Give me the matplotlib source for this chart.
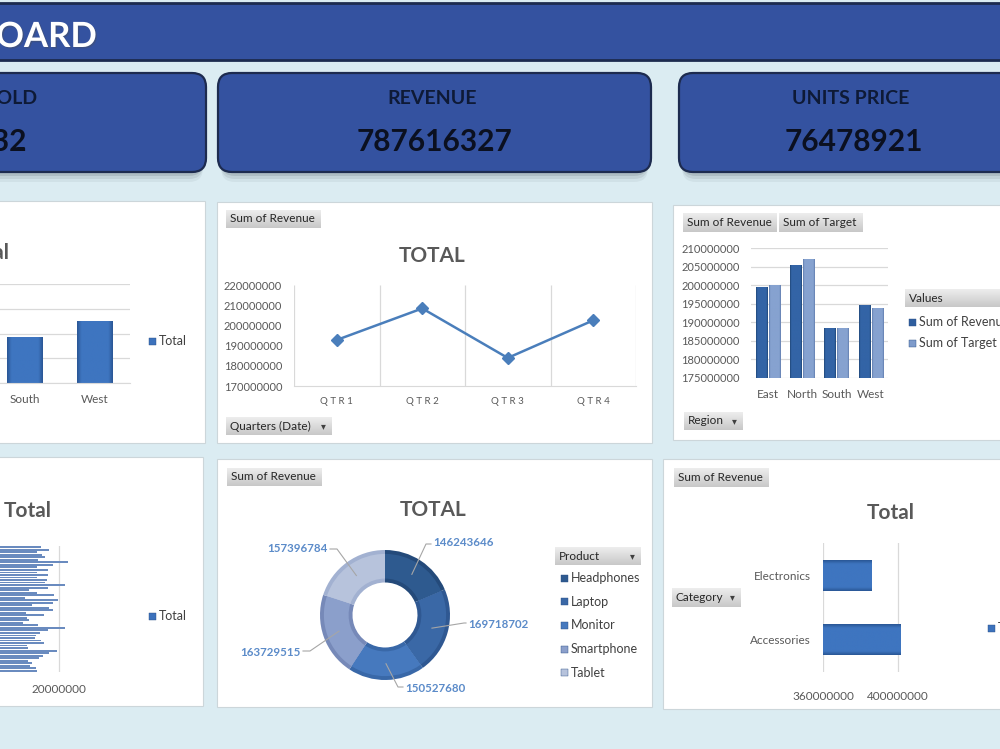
import numpy as np
import matplotlib.pyplot as plt
import matplotlib.patheffects as pe
from matplotlib.patches import FancyBboxPatch, Rectangle
from matplotlib.colors import LinearSegmentedColormap
from matplotlib.ticker import FuncFormatter

plt.rcParams['font.family'] = ['Lato', 'DejaVu Sans']

# ---- data ----
kpi_labels = ["UNITS SOLD", "REVENUE", "UNITS PRICE"]
kpi_values = ["10932", "787616327", "76478921"]

regions = ["East", "North", "South", "West"]
region_revenue = [199.45e6, 205.25e6, 188.25e6, 194.65e6]
region_target = [200.0e6, 207.0e6, 188.2e6, 193.8e6]

quarters = ["QTR1", "QTR2", "QTR3", "QTR4"]
quarter_revenue = [192.8e6, 208.4e6, 183.9e6, 202.5e6]

products = ["Headphones", "Laptop", "Monitor", "Smartphone", "Tablet"]
product_revenue = [146243646, 169718702, 150527680, 163729515, 157396784]

categories = ["Accessories", "Electronics"]
category_revenue = [401.6e6, 386.0e6]

# revenue per item (top to bottom), only the right ends are visible
detail_revenue = [
    18.33, 19.11, 17.96, 18.42, 18.72, 18.11, 20.85, 19.42, 18.02, 19.02,
    17.96, 19.02, 18.02, 18.88, 18.72, 20.58, 18.97, 17.29, 18.02, 19.57,
    16.89, 19.94, 19.48, 17.51, 19.11, 19.42, 16.99, 18.63, 17.05, 17.29,
    16.74, 18.11, 20.58, 18.97, 18.26, 17.90, 17.81, 18.33, 18.66, 17.05,
    17.20, 19.85, 19.11, 18.57, 18.20, 17.20, 17.56, 17.35, 17.90, 17.96,
]
detail_revenue = [v * 1e6 for v in detail_revenue]

# ---- styling ----
BG = '#DBECF2'
NAVY = '#3452A0'
GREY_TXT = '#595959'
LEG_TXT = '#404040'
GRID = '#D9D9D9'

W, H = 1000, 749
fig = plt.figure(figsize=(W / 100, H / 100), dpi=100)
fig.patch.set_facecolor(BG)


def px_axes(x0, y0, x1, y1):
    ax = fig.add_axes([x0 / W, 1 - y1 / H, (x1 - x0) / W, (y1 - y0) / H])
    ax.set_facecolor('none')
    return ax


bg = fig.add_axes([0, 0, 1, 1])
bg.axis('off')

# header bar
bg.add_patch(Rectangle((-10, 3), W + 20, 57, facecolor=NAVY, edgecolor='#1D2B4F', lw=2))
bg.text(97, 37, "DASHBOARD", ha='right', va='center', color='white', fontsize=25,
        fontweight='bold', path_effects=[pe.withSimplePatchShadow(offset=(1, -1), alpha=0.35)])

# KPI cards
kpi_boxes = [(-40, 206), (218, 651), (679, 1040)]
kpi_label_pos = [(37, 'right'), (432, 'center'), (851, 'center')]
kpi_value_pos = [(27, 'right'), (434, 'center'), (854, 'center')]
for (x0, x1), lab, val, (lx, lha), (vx, vha) in zip(kpi_boxes, kpi_labels, kpi_values,
                                                     kpi_label_pos, kpi_value_pos):
    for off, a in [(10, 0.08), (7, 0.12), (4, 0.18)]:
        bg.add_patch(FancyBboxPatch((x0 + 3, 73 + off), x1 - x0 - 6, 99,
                                    boxstyle='round,pad=0,rounding_size=14',
                                    facecolor='#56616A', edgecolor='none', alpha=a))
    bg.add_patch(FancyBboxPatch((x0, 73), x1 - x0, 99, boxstyle='round,pad=0,rounding_size=14',
                                facecolor=NAVY, edgecolor='#1D2B4F', lw=1.6))
    bg.text(lx, 98, lab, ha=lha, va='center', fontsize=14, fontweight='bold', color='#0E1A36')
    bg.text(vx, 142, val, ha=vha, va='center', fontsize=21.5, fontweight='bold', color='#0B1020')

# white chart panels
panels = [(-10, 201, 205, 443), (217, 202, 652, 443), (673, 205, 1010, 440),
          (-10, 457, 203, 706), (217, 459, 652, 707), (663, 459, 1010, 709)]
for x0, y0, x1, y1 in panels:
    bg.add_patch(Rectangle((x0, y0), x1 - x0, y1 - y0, facecolor='white',
                           edgecolor='#CCD6DA', lw=0.8))

btn_cmap = LinearSegmentedColormap.from_list('btn', ['#EDEDED', '#C8C8C8'])


def button(x0, y0, x1, y1, text, arrow=False):
    grad = np.linspace(0, 1, 32).reshape(-1, 1)
    bg.imshow(grad, cmap=btn_cmap, extent=(x0, x1, y1, y0), aspect='auto',
              interpolation='bilinear', zorder=3)
    bg.text(x0 + 4, (y0 + y1) / 2, text, ha='left', va='center', fontsize=8.5,
            color='#262626', zorder=4)
    if arrow:
        bg.text(x1 - 9, (y0 + y1) / 2, '▾', ha='center', va='center', fontsize=7,
                color='#404040', zorder=4, family='DejaVu Sans')


def legend_item(x, y, color, text):
    bg.add_patch(Rectangle((x, y - 3.5), 7, 7, facecolor=color, edgecolor='#2B4F86', lw=0.3, zorder=4))
    bg.text(x + 10, y, text, ha='left', va='center', fontsize=9, color=LEG_TXT, zorder=4)


def title(x, y, text, ha='center'):
    bg.text(x, y, text, ha=ha, va='center', fontsize=15, fontweight='bold', color=GREY_TXT)


def bevel(ax, bars, light, dark, horizontal=False):
    # gradient overlay on each bar, cut to the visible view limits
    cmap = LinearSegmentedColormap.from_list(
        'bev', [(0, dark), (0.12, light), (0.88, light), (1, dark)])
    g = np.linspace(0, 1, 64)
    g = g.reshape(-1, 1) if horizontal else g.reshape(1, -1)
    xl, yl = ax.get_xlim(), ax.get_ylim()
    for b in bars:
        x, y, w, h = b.get_x(), b.get_y(), b.get_width(), b.get_height()
        xa, xb = max(x, min(xl)), min(x + w, max(xl))
        ya, yb = max(y, min(yl)), min(y + h, max(yl))
        ax.imshow(g, cmap=cmap, extent=(xa, xb, ya, yb), aspect='auto',
                  interpolation='bilinear', zorder=b.get_zorder() + 0.1)
    ax.set_xlim(xl)
    ax.set_ylim(yl)


def plain_axes(ax):
    for s in ax.spines.values():
        s.set_visible(False)
    ax.tick_params(length=0, labelsize=8, labelcolor=GREY_TXT)
    ax.yaxis.set_major_formatter(FuncFormatter(lambda v, p: f"{v:.0f}"))
    ax.xaxis.set_major_formatter(FuncFormatter(lambda v, p: f"{v:.0f}"))


# ---- panel A: revenue by region (left edge cropped) ----
axA = px_axes(-150, 284, 130, 383)
plain_axes(axA)
xa = np.arange(len(regions))
barsA = axA.bar(xa, region_revenue, width=0.51, color='#3C72BC')
axA.set_xlim(-0.5, len(regions) - 0.5)
axA.set_ylim(170e6, 210e6)
bevel(axA, barsA, '#3E75C0', '#2A5796')
axA.set_yticks(np.arange(170e6, 210e6 + 1, 10e6))
axA.set_xticks(xa, regions)
axA.yaxis.grid(True, color=GRID, lw=0.9)
axA.set_axisbelow(True)
axA.tick_params(axis='x', labelsize=8.5, pad=8)
axA.spines['bottom'].set_visible(True)
axA.spines['bottom'].set_color(GRID)
title(10, 253, "Total", ha='right')
legend_item(149, 341, '#3C72BC', "Total")

# ---- panel B: revenue by quarter ----
axB = px_axes(294, 285, 636, 386)
plain_axes(axB)
xb = np.arange(len(quarters))
axB.vlines(np.arange(-0.5, len(quarters)), 170e6, 220e6, color=GRID, lw=0.9, zorder=0)
axB.plot(xb, quarter_revenue, color='#4A7EBB', lw=1.8, marker='D', ms=6)
axB.set_xlim(-0.5, len(quarters) - 0.5)
axB.set_ylim(170e6, 220e6)
axB.set_yticks(np.arange(170e6, 220e6 + 1, 10e6))
axB.set_xticks(xb, [" ".join(q) for q in quarters])
axB.tick_params(axis='y', pad=8.5)
axB.tick_params(axis='x', labelsize=7, pad=8)
axB.spines['bottom'].set_visible(True)
axB.spines['bottom'].set_color(GRID)
title(432, 256, "TOTAL")
button(226, 210, 321, 228, "Sum of Revenue")
button(226, 417, 332, 435, "Quarters (Date)", arrow=True)

# ---- panel C: revenue vs target by region ----
axC = px_axes(751, 248, 888, 378)
plain_axes(axC)
xc = np.arange(len(regions))
barsC1 = axC.bar(xc - 0.19, region_revenue, width=0.33, color='#2F5E9E')
barsC2 = axC.bar(xc + 0.19, region_target, width=0.33, color='#7E9BCB')
axC.set_xlim(-0.5, len(regions) - 0.5)
axC.set_ylim(175e6, 210e6)
bevel(axC, barsC1, '#3364A6', '#1F4677')
bevel(axC, barsC2, '#86A2D0', '#5F7CAE')
axC.set_yticks(np.arange(175e6, 210e6 + 1, 5e6))
axC.set_xticks(xc, regions)
axC.yaxis.grid(True, color=GRID, lw=0.9)
axC.set_axisbelow(True)
axC.tick_params(axis='y', pad=8)
axC.tick_params(axis='x', labelsize=8.5, pad=8)
button(683, 213, 777, 232, "Sum of Revenue")
button(779, 213, 863, 232, "Sum of Target")
button(684, 412, 743, 430, "Region", arrow=True)
button(905, 289, 1010, 307, "Values")
legend_item(909, 322, '#2F5E9E', "Sum of Revenue")
legend_item(909, 343, '#7E9BCB', "Sum of Target")

# ---- panel D: many thin bars (left edge cropped) ----
axD = px_axes(-160, 546, 100, 672)
plain_axes(axD)
yd = np.arange(len(detail_revenue))
axD.barh(yd, detail_revenue, height=0.75, color='#6A8BBF')
axD.set_ylim(len(detail_revenue) - 0.5, -0.5)
axD.set_xlim(0, 23.74e6)
axD.set_xticks([0, 10e6, 20e6])
axD.set_yticks([])
axD.xaxis.grid(True, color=GRID, lw=0.9)
axD.set_axisbelow(True)
axD.tick_params(axis='x', labelsize=8.5, pad=8.5)
title(52, 511, "Total", ha='right')
legend_item(149, 616, '#3C72BC', "Total")

# ---- panel E: donut by product ----
dark_cols = ['#244A7A', '#2F5892', '#3968A8', '#7689B8', '#A2B1D1']
base_cols = ['#2E5A8F', '#3A68A6', '#4679BE', '#8B9FCB', '#B7C3DC']
axE = px_axes(320, 550, 450, 680)
axE.pie(product_revenue, radius=1.0, colors=dark_cols, startangle=90, counterclock=False,
        wedgeprops=dict(width=0.5, edgecolor='none'))
axE.pie(product_revenue, radius=0.94, colors=base_cols, startangle=90, counterclock=False,
        wedgeprops=dict(width=0.38, edgecolor='none'))
axE.set_xlim(-1, 1)
axE.set_ylim(-1, 1)
axE.axis('off')


def p2d(px, py):
    return (px - 385) / 65, (615 - py) / 65


fr = np.array(product_revenue) / sum(product_revenue)
starts = 90 - 360 * np.concatenate([[0], np.cumsum(fr)[:-1]])
mids = np.radians(starts - 180 * fr)
# label layout in pixels: elbow point, text anchor, alignment
label_layout = [((426, 544), (433, 542), 'left'),
                ((464, 623), (468, 624), 'left'),
                ((398, 687), (405, 688), 'left'),
                ((310, 651), (301, 652), 'right'),
                ((337, 549), (328, 549), 'right')]
for val, ang, (elb, txt, ha) in zip(product_revenue, mids, label_layout):
    sx, sy = 0.75 * np.cos(ang), 0.75 * np.sin(ang)
    ex, ey = p2d(*elb)
    tx, ty = p2d(txt[0] + (-2 if ha == 'left' else 2), elb[1])
    axE.plot([sx, ex, tx], [sy, ey, ty], color='#A6A6A6', lw=0.8, clip_on=False)
    bg.text(txt[0], txt[1], f"{val}", ha=ha, va='center', fontsize=8.3,
            fontweight='bold', color='#5B8BC9')
title(433, 510, "TOTAL")
button(227, 468, 322, 486, "Sum of Revenue")
button(555, 547, 641, 565, "Product", arrow=True)
for i, (p, c) in enumerate(zip(products, base_cols)):
    legend_item(561, 578 + i * 23.7, c, p)

# ---- panel F: revenue by category ----
axF = px_axes(823, 543, 973, 672)
plain_axes(axF)
yf = np.arange(len(categories))
barsF = axF.barh(yf, category_revenue, height=0.48, color='#3C72BC')
axF.set_xlim(360e6, 440e6)
axF.set_ylim(-0.5, len(categories) - 0.5)
bevel(axF, barsF, '#3E75C0', '#2A5796', horizontal=True)
axF.set_xticks([360e6, 400e6])
axF.set_yticks(yf, categories)
axF.xaxis.grid(True, color=GRID, lw=0.9)
axF.set_axisbelow(True)
axF.tick_params(axis='x', labelsize=8.5, pad=14)
axF.tick_params(axis='y', labelsize=8.5, pad=9)
title(891, 513, "Total")
button(674, 468, 769, 487, "Sum of Revenue")
button(672, 588, 741, 607, "Category", arrow=True)
legend_item(988, 628, '#3C72BC', "Total")

# fix the canvas axes last (imshow changes limits)
bg.set_xlim(0, W)
bg.set_ylim(H, 0)

fig.savefig('out.png', dpi=100, facecolor=fig.get_facecolor())
